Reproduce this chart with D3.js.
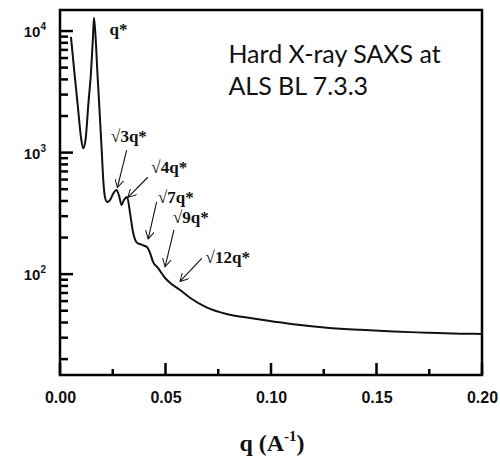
<!DOCTYPE html>
<html>
<head>
<meta charset="utf-8">
<script src="https://d3js.org/d3.v7.min.js"></script>
<style>
    body { margin: 0; background: #fff; }
    .tickLabel { font-family: "Liberation Sans", Arial, sans-serif; font-weight: bold; fill: #111; }
    .peakLabel { font-family: "Liberation Serif", "Times New Roman", serif; font-weight: bold; font-size: 17px; fill: #111; }
    .note { font-family: Lato, "Open Sans", sans-serif; font-size: 25px; fill: #111; }
</style>
</head>
<body>
<script>
//SAXS curve, log intensity vs q

//pseudo-global variables
var qValues = [0.0052, 0.0068, 0.0084, 0.0100, 0.0110, 0.0121, 0.0134, 0.0147, 0.0156, 0.0161,
    0.0169, 0.0177, 0.0186, 0.0198, 0.0205, 0.0213, 0.0223, 0.0237, 0.0251, 0.0268,
    0.0280, 0.0292, 0.0303, 0.0318, 0.0332, 0.0346, 0.0365, 0.0389, 0.0412, 0.0427,
    0.0441, 0.0465, 0.0498, 0.0521, 0.0569, 0.0616, 0.0697, 0.0790, 0.0901, 0.0980,
    0.1106, 0.1264, 0.1422, 0.1580, 0.1738, 0.1896, 0.2000];
var intensity = [8970, 4620, 2460, 1310, 1084, 1270, 2460, 4620, 8710, 12850,
    8710, 4620, 2460, 1016, 596, 432, 393, 407, 457, 492,
    440, 371, 407, 432, 318, 222, 181, 174, 167, 149,
    126, 112, 93, 85, 74, 64, 53, 47, 43.6, 41.5,
    38.7, 36.3, 34.8, 33.7, 33.0, 32.4, 32.2];

var xTicks = [0, 0.05, 0.10, 0.15, 0.20];
var xMinorTicks = [0.025, 0.075, 0.125, 0.175];
var xTickLabels = ["0.00", "0.05", "0.10", "0.15", "0.20"];
var yTicks = [100, 1000, 10000];
var yTickExponents = ["2", "3", "4"];

//peak annotations: label, text anchor, arrow tail, arrow tip (q, I)
var peakLabels = ["3q*", "4q*", "7q*", "9q*", "12q*"];
var peakTextQ = [0.0242, 0.0433, 0.0464, 0.0535, 0.0690];
var peakTextI = [1222, 676, 387, 265, 123];
var arrowTailQ = [0.0316, 0.0416, 0.0458, 0.0540, 0.0672];
var arrowTailI = [1050, 627, 394, 231, 135];
var arrowTipQ = [0.0272, 0.0322, 0.0418, 0.0498, 0.0569];
var arrowTipI = [516, 428, 195, 115, 87];
var firstPeakQ = 0.0235, firstPeakI = 9270;

var noteLines = ["Hard X-ray SAXS at", "ALS BL 7.3.3"];

//frame dimensions
var chartWidth = 500,
    chartHeight = 457,
    margin = {top: 10, right: 18, bottom: 82, left: 60},
    chartInnerWidth = chartWidth - margin.left - margin.right,
    chartInnerHeight = chartHeight - margin.top - margin.bottom;

var svg = d3.select("body")
    .append("svg")
    .attr("width", chartWidth)
    .attr("height", chartHeight);

//arrow head marker
svg.append("defs").append("marker")
    .attr("id", "arrow")
    .attr("viewBox", "0 0 10 10")
    .attr("refX", 9)
    .attr("refY", 5)
    .attr("markerWidth", 9)
    .attr("markerHeight", 9)
    .attr("markerUnits", "userSpaceOnUse")
    .attr("orient", "auto")
    .append("path")
    .attr("d", "M0,0 L9,5 L0,10")
    .attr("fill", "none")
    .attr("stroke", "#111")
    .attr("stroke-width", 1.1);

var chart = svg.append("g")
    .attr("transform", "translate(" + margin.left + "," + margin.top + ")");

var xScale = d3.scaleLinear()
    .domain([0, 0.2])
    .range([0, chartInnerWidth]);

var yScale = d3.scaleLog()
    .domain([14.8, 14900])
    .range([chartInnerHeight, 0]);

//frame
chart.append("rect")
    .attr("width", chartInnerWidth)
    .attr("height", chartInnerHeight)
    .attr("fill", "none")
    .attr("stroke", "#000")
    .attr("stroke-width", 2.5);

//tick marks (inward)
var yMinorTicks = yScale.ticks().filter(function(d){
    return yTicks.indexOf(d) < 0;
});

chart.selectAll(".xTick")
    .data(xTicks.concat(xMinorTicks))
    .enter()
    .append("line")
    .attr("class", "xTick")
    .attr("x1", function(d){ return xScale(d); })
    .attr("x2", function(d){ return xScale(d); })
    .attr("y1", chartInnerHeight)
    .attr("y2", function(d){ return chartInnerHeight - (xTicks.indexOf(d) < 0 ? 6 : 12); })
    .attr("stroke", "#000")
    .attr("stroke-width", 2.5);

chart.selectAll(".yTick")
    .data(yTicks.concat(yMinorTicks))
    .enter()
    .append("line")
    .attr("class", "yTick")
    .attr("x1", 0)
    .attr("x2", function(d){ return yTicks.indexOf(d) < 0 ? 8 : 13; })
    .attr("y1", function(d){ return yScale(d); })
    .attr("y2", function(d){ return yScale(d); })
    .attr("stroke", "#000")
    .attr("stroke-width", 2.5);

//curve
var line = d3.line()
    .x(function(d){ return xScale(d[0]); })
    .y(function(d){ return yScale(d[1]); })
    .curve(d3.curveMonotoneX);

var points = qValues.map(function(q, i){ return [q, intensity[i]]; });

chart.append("path")
    .datum(points)
    .attr("d", line)
    .attr("fill", "none")
    .attr("stroke", "#111")
    .attr("stroke-width", 2)
    .attr("stroke-linejoin", "round");

//x tick labels from axis generator
var xAxis = d3.axisBottom(xScale)
    .tickValues(xTicks)
    .tickSize(0)
    .tickPadding(17)
    .tickFormat(function(d, i){ return xTickLabels[i]; });

var xAxisG = chart.append("g")
    .attr("transform", "translate(0," + chartInnerHeight + ")")
    .call(xAxis);
xAxisG.select(".domain").remove();
xAxisG.selectAll("line").remove();
xAxisG.selectAll("text")
    .attr("class", "tickLabel")
    .style("font-size", "16px");

//y tick labels as 10 with superscript
var yLabels = chart.selectAll(".yLabel")
    .data(yTicks)
    .enter()
    .append("text")
    .attr("class", "tickLabel yLabel")
    .attr("x", -14)
    .attr("y", function(d){ return yScale(d) + 6; })
    .attr("text-anchor", "end")
    .style("font-size", "15px");
yLabels.append("tspan")
    .text("10");
yLabels.append("tspan")
    .attr("dy", -7)
    .style("font-size", "10px")
    .text(function(d, i){ return yTickExponents[i]; });

//x axis title
var xTitle = svg.append("text")
    .attr("x", margin.left + chartInnerWidth / 2 + 1)
    .attr("y", 451)
    .attr("text-anchor", "middle")
    .style("font-family", "'Liberation Serif', 'Times New Roman', serif")
    .style("font-weight", "bold")
    .style("font-size", "24px")
    .style("fill", "#111");
xTitle.append("tspan").text("q (A");
xTitle.append("tspan").attr("dy", -10).style("font-size", "15px").text("-1");
xTitle.append("tspan").attr("dy", 10).text(")");

//first peak label
chart.append("text")
    .attr("class", "peakLabel")
    .attr("x", xScale(firstPeakQ))
    .attr("y", yScale(firstPeakI))
    .text("q*");

//higher order peak labels
var labels = chart.selectAll(".peakText")
    .data(peakLabels)
    .enter()
    .append("text")
    .attr("class", "peakLabel peakText")
    .attr("x", function(d, i){ return xScale(peakTextQ[i]); })
    .attr("y", function(d, i){ return yScale(peakTextI[i]); });
labels.append("tspan")
    .style("font-weight", "normal")
    .text("\u221A");
labels.append("tspan")
    .text(function(d){ return d; });

chart.selectAll(".peakArrow")
    .data(peakLabels)
    .enter()
    .append("line")
    .attr("class", "peakArrow")
    .attr("x1", function(d, i){ return xScale(arrowTailQ[i]); })
    .attr("y1", function(d, i){ return yScale(arrowTailI[i]); })
    .attr("x2", function(d, i){ return xScale(arrowTipQ[i]); })
    .attr("y2", function(d, i){ return yScale(arrowTipI[i]); })
    .attr("stroke", "#111")
    .attr("stroke-width", 1.1)
    .attr("marker-end", "url(#arrow)");

//beamline note
chart.selectAll(".note")
    .data(noteLines)
    .enter()
    .append("text")
    .attr("class", "note")
    .attr("x", chartInnerWidth * 0.399)
    .attr("y", function(d, i){ return 53 + i * 32; })
    .text(function(d){ return d; });
</script>
</body>
</html>
